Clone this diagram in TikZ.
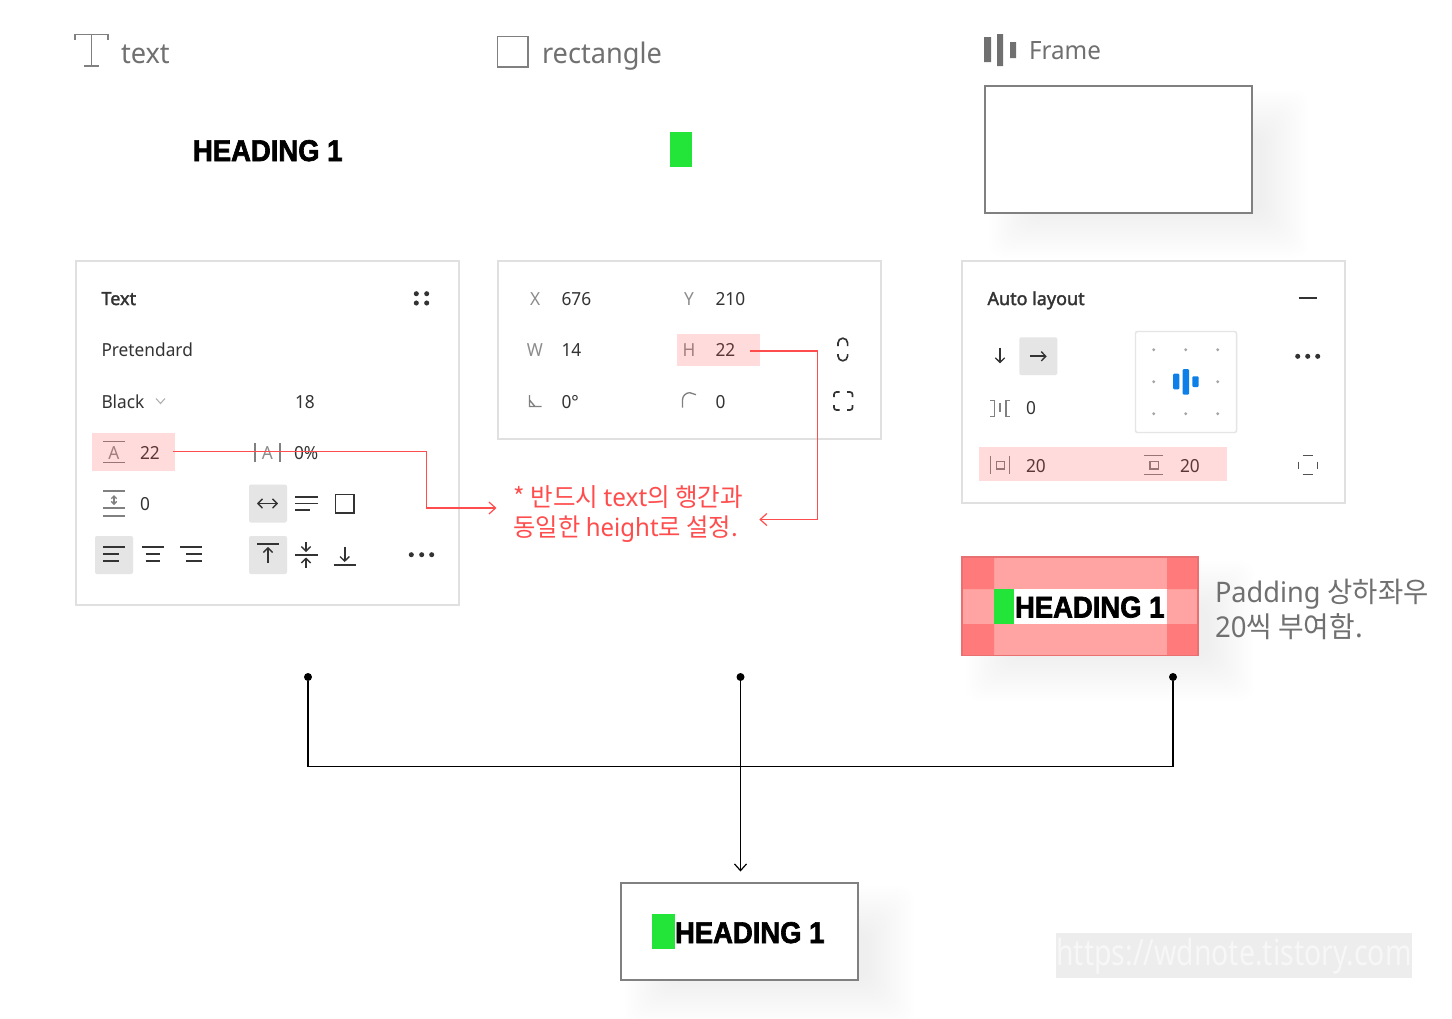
\documentclass[tikz,border=0pt]{standalone}
\usepackage{fontspec}
\usetikzlibrary{arrows.meta,calc}
\setmainfont[FakeStretch=0.96]{Noto Sans}
\newfontfamily\kofont[FakeStretch=0.97]{Noto Sans CJK KR}
\newfontfamily\headfont[FakeBold=2.2,FakeStretch=0.915]{Liberation Sans Bold}
\newfontfamily\markfont[FakeStretch=0.79]{Noto Sans}
\newfontfamily\titlefont[FakeBold=1.9,FakeStretch=1.0]{Noto Sans}
\newcommand\fpx[1]{\fontsize{\fpeval{#1*0.75}}{\fpeval{#1*0.9}}\selectfont}
\definecolor{panelline}{HTML}{E0E0E0}
\definecolor{btn}{HTML}{E5E5E5}
\definecolor{redline}{HTML}{FF4D4D}
\definecolor{ink}{HTML}{333333}
\definecolor{labelgray}{HTML}{8C8C8C}
\definecolor{capgray}{HTML}{707070}
\definecolor{framegray}{HTML}{808080}
\definecolor{okgreen}{HTML}{22E439}
\definecolor{blueb}{HTML}{0D7FE8}
\definecolor{sidepink}{HTML}{FFA3A3}
\definecolor{cornerpink}{HTML}{FF7B7B}
\definecolor{padedge}{HTML}{E87070}
\tikzset{
  rectnode/.style={rectangle,inner sep=0pt,outer sep=0pt},
  panel/.style={rectnode,draw=panelline,line width=1.5pt,fill=white},
  hilite/.style={rectnode,fill=redline,fill opacity=.2},
  btnbox/.style={rectnode,fill=btn,rounded corners=1.5pt},
  greenbox/.style={rectnode,fill=okgreen},
  outlinebox/.style={rectnode,draw=framegray,line width=1.5pt,fill=white},
  ptext/.style={anchor=base west,inner sep=0pt,outer sep=0pt,text=ink,font=\fpx{18}},
  glabel/.style={ptext,text=labelgray},
  bold title/.style={ptext,text=ink,font=\titlefont\fpx{18}},
  captxt/.style={anchor=base west,inner sep=0pt,outer sep=0pt,text=capgray},
  heading/.style={anchor=base west,inner sep=0pt,outer sep=0pt,text=black,font=\headfont\fpx{30}},
  gicon/.style={draw=framegray,line width=1pt},
  kicon/.style={draw=ink,line width=1.25pt},
  redconn/.style={draw=redline,line width=1.1pt},
  redarrow/.style={redconn,-{Straight Barb[length=5pt,width=9pt,line width=.9pt]}},
  blackconn/.style={draw=black,line width=1.1pt},
  tinyarrow/.style={-{Straight Barb[length=3.4pt,width=7pt,line width=1pt]}},
  dotnode/.style={circle,fill=black,inner sep=0pt,outer sep=0pt,minimum size=6pt},
}
\newcommand\pxrect[6]{\node[#2,minimum width={(#5-#3)*0.75pt},minimum height={(#6-#4)*0.75pt}] (#1) at ({(#3+#5)/2},{(#4+#6)/2}) {};}
\newcommand\softshadow[4]{%
  \foreach \k in {0,...,15}{%
    \fill[black,opacity=.0046,rounded corners=10pt]
      ({#1+4+3*\k},{#2+4+3*\k}) rectangle ({#3+56-3*\k},{#4+46-3*\k});
  }}
\begin{document}
\begin{tikzpicture}[x=0.75pt,y=-0.75pt]
\useasboundingbox (0,0) rectangle (1452,1018);
\fill[white] (0,0) rectangle (1452,1018);
% soft shadows
\softshadow{985}{86}{1252}{212}
\softshadow{962}{557}{1198}{655}
\softshadow{621}{882}{858}{980}
% header row
\draw[gicon] (75,40) -- (75,34.5) -- (108,34.5) -- (108,40) (91.5,34.5) -- (91.5,66) (84,66) -- (99,66);
\node[captxt,font=\fpx{28.3}] (captext) at (121,63) {text};
\pxrect{recticon}{rectnode,draw=framegray,line width=1.2pt}{497.5}{36.5}{528}{67}
\node[captxt,font=\fpx{28.3}] (caprect) at (542,63) {rectangle};
\fill[capgray] (984,37) rectangle (991,62) (997,34) rectangle (1003,66) (1010,42) rectangle (1016,58);
\node[captxt,font=\fpx{25.2}] (capframe) at (1029,59) {Frame};
\node[heading] (head1) at (193,161) {HEADING 1};
\pxrect{green1}{greenbox}{670}{132}{692}{167}
\pxrect{frame1}{outlinebox}{985}{86}{1252}{212.5}
% panels
\pxrect{panelA}{panel}{76}{261}{459}{605}
\pxrect{panelB}{panel}{497.7}{261}{880.7}{438.5}
\pxrect{panelC}{panel}{962}{261}{1345}{502.5}
% panel A
\node[bold title] (ttext) at (101.5,305) {Text};
\foreach \a/\b in {416.3/293.7,426.7/293.7,416.3/303,426.7/303}{\fill[ink] (\a,\b) circle (1.9pt);}
\node[ptext] (tpret) at (101.5,356.5) {Pretendard};
\node[ptext] (tblack) at (101.5,408) {Black};
\draw[draw=labelgray!70,line width=.8pt] (156,398.5) -- (160.5,403.5) -- (165,398.5);
\node[ptext] (t18) at (295,408) {18};
\draw[gicon] (103,441.5) -- (125,441.5) (103,462.5) -- (125,462.5);
\node[glabel,anchor=base] (tA) at (114,459) {A};
\node[ptext] (t22) at (140,459) {22};
\draw[gicon] (255,443) -- (255,461.5) (280,443) -- (280,461.5);
\node[glabel,anchor=base] (tA2) at (267.5,459) {A};
\node[ptext] (tpct) at (294,459) {0\%};
\draw[gicon] (103,491) -- (125,491) (103,508) -- (125,508) (103,516) -- (125,516);
\draw[gicon,{Straight Barb[length=2pt,width=4pt]}-{Straight Barb[length=2pt,width=4pt]}] (114,495) -- (114,505);
\node[ptext] (t0a) at (140,510.5) {0};
\pxrect{btnA}{btnbox}{249}{484.5}{287}{522.5}
\draw[kicon,{Straight Barb[length=3.4pt,width=7pt,line width=1pt]}-{Straight Barb[length=3.4pt,width=7pt,line width=1pt]}] (257,503.5) -- (278,503.5);
\draw[kicon] (295,497) -- (318,497) (295,503.5) -- (318,503.5) (295,510) -- (310,510);
\draw[kicon] (335.5,494.5) rectangle (354,512.7);
\pxrect{btnB}{btnbox}{95}{536}{133}{574}
\draw[kicon] (103,547) -- (125,547) (103,554) -- (119,554) (103,560.7) -- (119,560.7);
\draw[kicon] (141.5,547) -- (163.5,547) (145.5,554) -- (159.5,554) (145.5,560.7) -- (159.5,560.7);
\draw[kicon] (180,547) -- (202,547) (186,554) -- (202,554) (186,560.7) -- (202,560.7);
\pxrect{btnC}{btnbox}{249}{536}{287}{574}
\draw[kicon] (257,544) -- (279,544);
\draw[kicon,tinyarrow] (268,563) -- (268,547);
\draw[kicon] (295,554.7) -- (317.5,554.7);
\draw[kicon,tinyarrow] (306,542) -- (306,552);
\draw[kicon,tinyarrow] (306,567.5) -- (306,557.5);
\draw[kicon] (333.5,565) -- (355.7,565);
\draw[kicon,tinyarrow] (344.7,546.7) -- (344.7,562);
\foreach \q in {411.3,421.7,431.7}{\fill[ink] (\q,554.7) circle (1.9pt);}
\pxrect{hlA}{hilite}{91.7}{433}{175}{471}
% panel B
\node[glabel,anchor=base] (lx) at (535.3,305) {X};
\node[ptext] (v676) at (561.5,305) {676};
\node[glabel,anchor=base] (ly) at (689,305) {Y};
\node[ptext] (v210) at (715.5,305) {210};
\node[glabel,anchor=base] (lw) at (535,356.5) {W};
\node[ptext] (v14) at (561.5,356.5) {14};
\node[glabel,anchor=base] (lh) at (689,356.5) {H};
\node[ptext] (v22) at (715.5,356.5) {22};
\draw[gicon] (529.5,395) -- (529.5,406.5) -- (541.5,406.5) (529.5,400) -- (535,406.5);
\node[ptext] (v0d) at (561.5,408) {0°};
\draw[gicon] (682.5,407.5) -- (682.5,400) arc[start angle=180,end angle=90,radius=5.5pt] -- (696,394.7);
\node[ptext] (v0c) at (715.5,408) {0};
\draw[kicon] (838,346) -- (838,343) arc[start angle=180,end angle=0,x radius=3.6pt,y radius=3.6pt] -- (847.6,346);
\draw[kicon] (838,354) -- (838,356) arc[start angle=180,end angle=360,x radius=3.6pt,y radius=3.6pt] -- (847.6,354);
\draw[kicon,rounded corners=1.8pt] (834,397) -- (834,392) -- (839.5,392) (847,392) -- (852.5,392) -- (852.5,397) (852.5,405) -- (852.5,410) -- (847,410) (839.5,410) -- (834,410) -- (834,405);
\pxrect{hlH}{hilite}{676.5}{334}{759.5}{365.7}
% panel C
\node[bold title] (talayout) at (987.5,305) {Auto layout};
\draw[kicon] (1298.7,298.3) -- (1316.7,298.3);
\draw[kicon,tinyarrow] (1000,347.7) -- (1000,363.3);
\pxrect{btnD}{btnbox}{1019.3}{337.3}{1057.3}{375}
\draw[kicon,tinyarrow] (1030.3,356.3) -- (1046.7,356.3);
\pxrect{gridbox}{rectnode,draw=btn,line width=1.1pt,rounded corners=1.5pt,fill=white}{1135.5}{331.5}{1236.5}{432.5}
\foreach \a/\b in {1153.7/349.7,1185.7/349.7,1217.7/349.7,1153.7/381.7,1217.7/381.7,1153.7/413.7,1185.7/413.7,1217.7/413.7}{\fill[black!35] (\a,\b) circle (1.2pt);}
\fill[blueb,rounded corners=.8pt] (1173,373.7) rectangle (1179.3,389.3);
\fill[blueb,rounded corners=.8pt] (1182.7,369) rectangle (1189,394.7);
\fill[blueb,rounded corners=.8pt] (1192.3,376.3) rectangle (1198.7,387);
\draw[gicon] (990,400.5) -- (994.3,400.5) -- (994.3,416.5) -- (990,416.5) (1000,403) -- (1000,412) (1010.3,400.5) -- (1006,400.5) -- (1006,416.5) -- (1010.3,416.5);
\node[ptext] (v0g) at (1026,414) {0};
\foreach \q in {1297.7,1307.7,1317.7}{\fill[ink] (\q,356.3) circle (1.9pt);}
\draw[gicon] (990.3,455.7) -- (990.3,474.3) (1009.7,455.7) -- (1009.7,474.3) (996.3,461.7) rectangle (1004.3,469);
\node[ptext] (v20a) at (1026,472) {20};
\draw[gicon] (1144.3,455.7) -- (1163.3,455.7) (1144.3,474.3) -- (1163.3,474.3) (1150,461.7) rectangle (1158.3,469);
\node[ptext] (v20b) at (1180,472) {20};
\draw[gicon,draw=ink!85] (1302.7,455.7) -- (1312.7,455.7) (1302.7,474.3) -- (1312.7,474.3) (1298.3,461.7) -- (1298.3,469) (1317.3,461.7) -- (1317.3,469);
\pxrect{hlP}{hilite}{979}{447.3}{1227.3}{480.7}
% note
\node[anchor=base west,inner sep=0pt,outer sep=0pt,text=redline,font=\fpx{25.3}] (note1) at (513.5,506) {{\kofont * 반드시 }text{\kofont 의 행간과}};
\node[anchor=base west,inner sep=0pt,outer sep=0pt,text=redline,font=\fpx{25}] (note2) at (513.5,536.5) {{\kofont 동일한 }height{\kofont 로 설정.}};
\coordinate (noteL) at (496.5,508);
\coordinate (noteR) at (759.3,519.5);
\coordinate (bendA) at (426.5,451.7);
\coordinate (bendA2) at (426.5,508);
\coordinate (bendH) at (817.5,351);
\coordinate (bendH2) at (817.5,519.5);
\coordinate (startA) at (173,451.7);
\coordinate (startH) at (750,351);
\draw[redarrow] (startA) -- (bendA) -- (bendA2) -- (noteL);
\draw[redarrow] (startH) -- (bendH) -- (bendH2) -- (noteR);
% padding box
\fill[sidepink] (962,557) rectangle (1198,655);
\fill[cornerpink] (962,557) rectangle (994,589) (1167,557) rectangle (1198,589) (962,624) rectangle (994,655) (1167,624) rectangle (1198,655);
\pxrect{padinner}{rectnode,fill=white}{993.7}{588.7}{1166.7}{623.7}
\pxrect{padgreen}{greenbox}{993.7}{588.7}{1014.3}{623.7}
\node[heading] (head2) at (1015,617.5) {HEADING 1};
\pxrect{padbox}{rectnode,draw=padedge,line width=1.1pt}{962}{557}{1198}{655.3}
\node[captxt,font=\fpx{28.3}] (pad1) at (1215,602) {Padding {\kofont 상하좌우}};
\node[captxt,font=\fpx{28.7}] (pad2) at (1215,637) {20{\kofont 씩 부여함.}};
% tree
\node[dotnode] (d1) at (308,677) {};
\node[dotnode] (d2) at (740.5,677) {};
\node[dotnode] (d3) at (1173,677) {};
\coordinate (joinL) at (308,766.5);
\coordinate (joinR) at (1173,766.5);
\coordinate (arrowend) at (740.5,871.5);
\pxrect{result}{outlinebox}{621}{882.5}{858}{980}
\draw[blackconn] (d1) -- (joinL) -- (joinR) -- (d3);
\draw[blackconn,-{Straight Barb[length=5pt,width=9pt,line width=.9pt]}] (d2) -- (arrowend);
\pxrect{green2}{greenbox}{652}{914}{675}{949}
\node[heading] (head3) at (675,943) {HEADING 1};
% watermark
\pxrect{markbox}{rectnode,fill=black!7}{1056}{933}{1412}{978}
\node[anchor=center,inner sep=0pt,outer sep=0pt,text=white!97!black,font=\markfont\fpx{36}] (mark) at (1234,956) {https://wdnote.tistory.com};
\end{tikzpicture}
\end{document}
